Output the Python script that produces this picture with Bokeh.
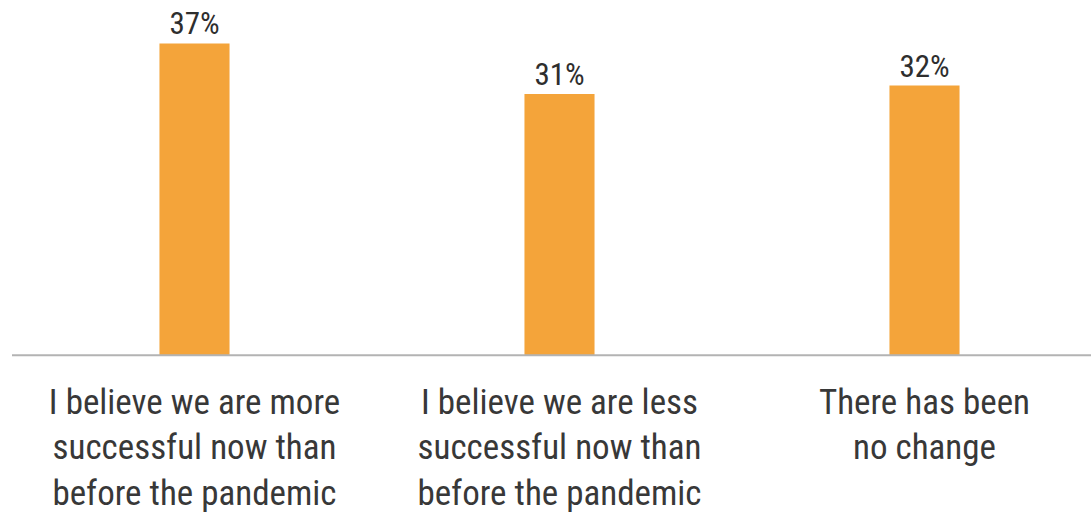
from bokeh.plotting import figure
from bokeh.models import Range1d, ColumnDataSource
from bokeh.core.properties import value
from bokeh.embed import file_html
from bokeh.resources import INLINE

categories = [
    "I believe we are more\nsuccessful now than\nbefore the pandemic",
    "I believe we are less\nsuccessful now than\nbefore the pandemic",
    "There has been\nno change",
]
values = [37, 31, 32]
value_labels = ["37%", "31%", "32%"]

FONT = "Roboto Condensed"

xs = list(range(len(values)))
src = ColumnDataSource(dict(x=xs, top=values, lab=value_labels, cat=categories,
                            cy=[0] * len(values)))

W, H = 1091, 520
p = figure(width=W, height=H, output_backend="svg", toolbar_location=None,
           x_range=Range1d(-0.5315, -0.5315 + W / 365.0),
           y_range=Range1d(-19.6, 42.1), min_border=0)
p.axis.visible = False
p.grid.visible = False
p.outline_line_color = None
p.background_fill_color = "white"
p.border_fill_color = "white"

p.vbar(x="x", top="top", bottom=0, width=0.192, source=src,
       fill_color="#F4A43A", line_color=None)

p.segment(x0=[-0.5], y0=[0], x1=[3.0], y1=[0], line_color="#b3b3b3", line_width=2)

p.text(x="x", y="top", text="lab", source=src, y_offset=-1,
       text_align="center", text_baseline="bottom",
       text_font=value(FONT), text_font_size="31px",
       text_color="#2e2e2e")

p.text(x="x", y="cy", text="cat", source=src, y_offset=27,
       text_align="center", text_baseline="top",
       text_font=value(FONT), text_font_size="35px",
       text_line_height=1.1, text_color="#383838")

open("out.html", "w").write(file_html(p, INLINE))
